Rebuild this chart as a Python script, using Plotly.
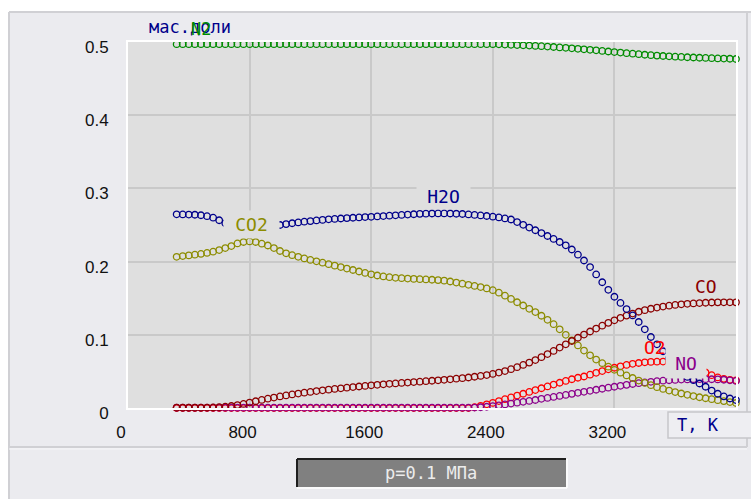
import plotly.graph_objects as go

# ---------------- data ----------------
T = [320, 360, 400, 440, 480, 520, 560, 600, 640, 680,
     720, 760, 800, 840, 880, 920, 960, 1000, 1040, 1080,
     1120, 1160, 1200, 1240, 1280, 1320, 1360, 1400, 1440, 1480,
     1520, 1560, 1600, 1640, 1680, 1720, 1760, 1800, 1840, 1880,
     1920, 1960, 2000, 2040, 2080, 2120, 2160, 2200, 2240, 2280,
     2320, 2360, 2400, 2440, 2480, 2520, 2560, 2600, 2640, 2680,
     2720, 2760, 2800, 2840, 2880, 2920, 2960, 3000, 3040, 3080,
     3120, 3160, 3200, 3240, 3280, 3320, 3360, 3400, 3440, 3480,
     3520, 3560, 3600, 3640, 3680, 3720, 3760, 3800, 3840, 3880,
     3920, 3960, 4000]

N2 = [0.497, 0.497, 0.497, 0.497, 0.497, 0.497, 0.497, 0.497, 0.497, 0.497,
      0.497, 0.497, 0.497, 0.497, 0.497, 0.497, 0.497, 0.497, 0.497, 0.497,
      0.497, 0.497, 0.497, 0.497, 0.497, 0.497, 0.497, 0.497, 0.497, 0.497,
      0.497, 0.497, 0.497, 0.497, 0.497, 0.497, 0.497, 0.497, 0.497, 0.497,
      0.497, 0.497, 0.497, 0.497, 0.497, 0.497, 0.497, 0.497, 0.497, 0.497,
      0.497, 0.497, 0.497, 0.4968, 0.4965, 0.4962, 0.4958, 0.4955, 0.4951, 0.4947,
      0.4943, 0.4938, 0.4932, 0.4926, 0.492, 0.4914, 0.4907, 0.49, 0.4893, 0.4886,
      0.4878, 0.487, 0.4862, 0.4855, 0.4847, 0.484, 0.4833, 0.4826, 0.482, 0.4814,
      0.4809, 0.4804, 0.48, 0.4796, 0.4792, 0.4788, 0.4785, 0.4782, 0.4779, 0.4776,
      0.4774, 0.4771, 0.4768]

H2O = [0.2646, 0.2645, 0.2643, 0.264, 0.2633, 0.262, 0.26, 0.2565, 0.2525, 0.249,
       0.2465, 0.2452, 0.245, 0.2455, 0.2465, 0.2478, 0.249, 0.25, 0.2512, 0.2524,
       0.2535, 0.2545, 0.2553, 0.2562, 0.257, 0.2577, 0.2583, 0.2589, 0.2594, 0.2599,
       0.2603, 0.2608, 0.2612, 0.2617, 0.2622, 0.2627, 0.2632, 0.2637, 0.2642, 0.2647,
       0.2652, 0.2655, 0.2657, 0.2658, 0.2658, 0.2657, 0.2654, 0.265, 0.2645, 0.2638,
       0.2631, 0.2623, 0.2614, 0.2603, 0.259, 0.2575, 0.254, 0.2502, 0.2465, 0.2428,
       0.239, 0.235, 0.231, 0.2268, 0.2222, 0.2165, 0.2095, 0.2015, 0.1925, 0.1825,
       0.1718, 0.1615, 0.152, 0.1435, 0.1352, 0.1265, 0.1175, 0.1075, 0.097, 0.087,
       0.0775, 0.068, 0.059, 0.05, 0.0425, 0.038, 0.0335, 0.029, 0.0238, 0.0195,
       0.0158, 0.013, 0.0108]

CO2 = [0.2065, 0.2075, 0.2085, 0.2095, 0.2105, 0.2118, 0.2135, 0.2158, 0.2185, 0.2212,
       0.2248, 0.2268, 0.2275, 0.2268, 0.2245, 0.222, 0.2185, 0.2145, 0.2113, 0.2088,
       0.2065, 0.2043, 0.2023, 0.2004, 0.1985, 0.1965, 0.1945, 0.1925, 0.1905, 0.1885,
       0.1865, 0.1845, 0.1826, 0.181, 0.1797, 0.1787, 0.1779, 0.1773, 0.1768, 0.1764,
       0.176, 0.1756, 0.1752, 0.1747, 0.174, 0.1728, 0.1713, 0.1698, 0.1683, 0.1668,
       0.1652, 0.1633, 0.161, 0.1575, 0.1535, 0.149, 0.1445, 0.14, 0.1355, 0.131,
       0.126, 0.1205, 0.1145, 0.1075, 0.1, 0.0925, 0.0855, 0.0785, 0.072, 0.0662,
       0.0612, 0.0565, 0.0522, 0.0482, 0.0445, 0.041, 0.0375, 0.0342, 0.0312, 0.0285,
       0.026, 0.0238, 0.0218, 0.0198, 0.018, 0.0163, 0.0147, 0.0133, 0.012, 0.0107,
       0.0094, 0.0081, 0.0068]

CO = [0.0005, 0.0005, 0.0005, 0.0005, 0.0005, 0.0006, 0.0008, 0.0012, 0.0018, 0.0027,
      0.004, 0.0056, 0.0074, 0.0092, 0.011, 0.0127, 0.0143, 0.0158, 0.0172, 0.0185,
      0.0197, 0.0209, 0.022, 0.0231, 0.0241, 0.0251, 0.026, 0.0269, 0.0278, 0.0286,
      0.0294, 0.0302, 0.031, 0.0317, 0.0324, 0.033, 0.0336, 0.0342, 0.0348, 0.0354,
      0.036, 0.0366, 0.0372, 0.0378, 0.0385, 0.0392, 0.04, 0.0408, 0.0417, 0.0427,
      0.0438, 0.045, 0.0465, 0.0484, 0.0505, 0.053, 0.0558, 0.0588, 0.062, 0.0655,
      0.0695, 0.0737, 0.078, 0.0825, 0.087, 0.0915, 0.096, 0.1003, 0.1045, 0.1085,
      0.1125, 0.1163, 0.1198, 0.1232, 0.1262, 0.129, 0.1315, 0.1337, 0.1356, 0.1372,
      0.1386, 0.1398, 0.1408, 0.1416, 0.1423, 0.1429, 0.1434, 0.1438, 0.1441, 0.1443,
      0.1444, 0.1444, 0.1443]

O2 = [0.0, 0.0, 0.0, 0.0, 0.0, 0.0, 0.0, 0.0, 0.0, 0.0,
      0.0, 0.0, 0.0, 0.0, 0.0, 0.0, 0.0, 0.0, 0.0, 0.0,
      0.0, 0.0, 0.0, 0.0, 0.0, 0.0, 0.0, 0.0, 0.0, 0.0,
      0.0, 0.0, 0.0, 0.0, 0.0, 0.0, 0.0, 0.0, 0.0, 0.0,
      0.0, 0.0, 0.0, 0.0, 0.0, 0.0, 0.0, 0.0, 0.0, 0.001,
      0.003, 0.005, 0.007, 0.0095, 0.012, 0.0145, 0.017, 0.0195, 0.022, 0.0245,
      0.027, 0.0295, 0.032, 0.0345, 0.037, 0.0393, 0.0413, 0.043, 0.0455, 0.048,
      0.0505, 0.0528, 0.055, 0.057, 0.0588, 0.0603, 0.0615, 0.0624, 0.063, 0.0633,
      0.0634, 0.0632, 0.0625, 0.0612, 0.0593, 0.0563, 0.0525, 0.0485, 0.0448, 0.0418,
      0.0398, 0.0385, 0.0378]

NO = [0.0004, 0.0004, 0.0004, 0.0004, 0.0004, 0.0004, 0.0004, 0.0004, 0.0004, 0.0004,
      0.0004, 0.0004, 0.0004, 0.0004, 0.0004, 0.0004, 0.0004, 0.0004, 0.0004, 0.0004,
      0.0004, 0.0004, 0.0004, 0.0004, 0.0004, 0.0004, 0.0004, 0.0004, 0.0004, 0.0004,
      0.0004, 0.0004, 0.0004, 0.0004, 0.0004, 0.0004, 0.0004, 0.0004, 0.0004, 0.0004,
      0.0004, 0.0004, 0.0004, 0.0004, 0.0004, 0.0004, 0.0004, 0.0004, 0.0004, 0.0006,
      0.001, 0.0017, 0.0026, 0.0037, 0.0049, 0.0061, 0.0073, 0.0085, 0.0097, 0.0109,
      0.0125, 0.0138, 0.0151, 0.0165, 0.0179, 0.0193, 0.0207, 0.0221, 0.0235, 0.0249,
      0.0263, 0.0277, 0.029, 0.0303, 0.0316, 0.0328, 0.0339, 0.0349, 0.0358, 0.0366,
      0.0373, 0.0379, 0.0384, 0.0388, 0.0391, 0.0393, 0.0394, 0.0394, 0.0393, 0.0391,
      0.0386, 0.0378, 0.037]

X_TICKS = [0, 800, 1600, 2400, 3200]
X_TICKTEXT = ["0", "800", "1600", "2400", "3200"]
Y_TICKS = [0, 0.1, 0.2, 0.3, 0.4, 0.5]
Y_TICKTEXT = ["0", "0.1", "0.2", "0.3", "0.4", "0.5"]

for name, s in [("N2", N2), ("H2O", H2O), ("CO2", CO2), ("CO", CO), ("O2", O2), ("NO", NO)]:
    assert len(s) == len(T), (name, len(s), len(T))

# ---------------- styling ----------------
W, H = 751, 499
L, R, TOP, BOT = 128, 736, 42, 408
PANEL = "#ebebef"
PLOTBG = "#dfdfdf"
MONO = "DejaVu Sans Mono"


def px(x):
    return (x - L) / (R - L)


def py(y):
    return (BOT - y) / (BOT - TOP)


series = [
    ("O2", O2, "#ff0000"),
    ("NO", NO, "#8b008b"),
    ("CO2", CO2, "#8c8c00"),
    ("CO", CO, "#8b0000"),
    ("H2O", H2O, "#00008b"),
    ("N2", N2, "#008c00"),
]

fig = go.Figure()
for name, vals, col in series:
    fig.add_trace(go.Scatter(
        x=T, y=vals, mode="markers", name=name,
        marker=dict(symbol="circle-open", size=6.5, color=col, line=dict(width=1.3, color=col)),
        cliponaxis=False, hoverinfo="skip", showlegend=False,
    ))

shapes = []
# white outer bands
shapes.append(dict(type="rect", xref="paper", yref="paper", x0=px(0), x1=px(9), y0=py(H), y1=py(0),
                   fillcolor="white", line=dict(width=0), layer="below"))
shapes.append(dict(type="rect", xref="paper", yref="paper", x0=px(0), x1=px(W), y0=py(12), y1=py(0),
                   fillcolor="white", line=dict(width=0), layer="below"))
# panel borders
for (x0, y0, x1, y1) in [(9, 12, W, 12), (9, 12, 9, H), (9, 447, 747, 447), (747, 12, 747, 447)]:
    shapes.append(dict(type="line", xref="paper", yref="paper", x0=px(x0), y0=py(y0), x1=px(x1), y1=py(y1),
                       line=dict(color="#d0d0d4", width=2), layer="below"))
shapes.append(dict(type="line", xref="paper", yref="paper", x0=px(9), y0=py(449), x1=px(747), y1=py(449),
                   line=dict(color="#f8f8fa", width=1), layer="below"))
# axis-title box "T, K"
shapes.append(dict(type="rect", xref="paper", yref="paper", x0=px(668), x1=px(752), y0=py(438), y1=py(412),
                   fillcolor="#eeeef2", line=dict(color="#c6c6ca", width=1.5), layer="below"))
# pressure button
shapes.append(dict(type="rect", xref="paper", yref="paper", x0=px(297), x1=px(566), y0=py(487), y1=py(459),
                   fillcolor="#808080", line=dict(width=0), layer="below"))
shapes.append(dict(type="line", xref="paper", yref="paper", x0=px(297), y0=py(459), x1=px(566), y1=py(459),
                   line=dict(color="#1e1e1e", width=2), layer="below"))
shapes.append(dict(type="line", xref="paper", yref="paper", x0=px(297), y0=py(459), x1=px(297), y1=py(487),
                   line=dict(color="#1e1e1e", width=2), layer="below"))
shapes.append(dict(type="line", xref="paper", yref="paper", x0=px(297), y0=py(488), x1=px(567), y1=py(488),
                   line=dict(color="#ffffff", width=1.5), layer="below"))
shapes.append(dict(type="line", xref="paper", yref="paper", x0=px(567), y0=py(459), x1=px(567), y1=py(488),
                   line=dict(color="#ffffff", width=1.5), layer="below"))

annotations = []


def ann(text, x, y, color, size, bg=None, w=None, h=None, family=MONO):
    d = dict(text=text, xref="paper", yref="paper", x=px(x), y=py(y), xanchor="center", yanchor="middle",
             showarrow=False, font=dict(family=family, size=size, color=color))
    if bg:
        d.update(bgcolor=bg, width=w, height=h, borderpad=0)
    annotations.append(d)


ann("мас.доли", 190, 27, "#00008b", 17)
ann("N2", 201, 29, "#008c00", 17)
ann("CO2", 251.5, 224, "#8c8c00", 18, bg=PLOTBG, w=55, h=27)
ann("H2O", 443.5, 196, "#00008b", 18, bg=PLOTBG, w=53, h=25)
ann("CO", 706, 286, "#8b0000", 18)
ann("O2", 655, 347, "#ff0000", 18)
ann("NO", 686, 363, "#8b008b", 18, bg=PLOTBG, w=40, h=30)
ann("T, K", 698, 425, "#00008b", 17)
ann("p=0.1 МПа", 431, 473, "#ececec", 17)

fig.update_layout(
    width=W, height=H,
    margin=dict(l=L, r=W - R, t=TOP, b=H - BOT, pad=0),
    paper_bgcolor=PANEL, plot_bgcolor=PLOTBG,
    shapes=shapes, annotations=annotations,
    xaxis=dict(range=[0, 4000], tickvals=X_TICKS, ticktext=X_TICKTEXT, showgrid=True,
               gridcolor="#c9c9c9", gridwidth=1.5, zeroline=False, showline=True, linecolor="white",
               linewidth=2, mirror=True, ticks="", ticklabelstandoff=8, ticklabelshift=-7,
               tickfont=dict(family="Liberation Sans", size=17, color="#111111")),
    yaxis=dict(range=[0, 0.5], tickvals=Y_TICKS, ticktext=Y_TICKTEXT, showgrid=True,
               gridcolor="#c9c9c9", gridwidth=1.5, zeroline=False, showline=True, linecolor="white",
               linewidth=2, mirror=True, ticks="", ticklabelstandoff=14, ticklabelshift=5,
               tickfont=dict(family="Liberation Sans", size=17, color="#111111")),
)

fig.write_html(
    "out.html",
    config={"displayModeBar": False},
    post_script="document.body.style.margin='0';document.body.style.overflow='hidden';",
)
